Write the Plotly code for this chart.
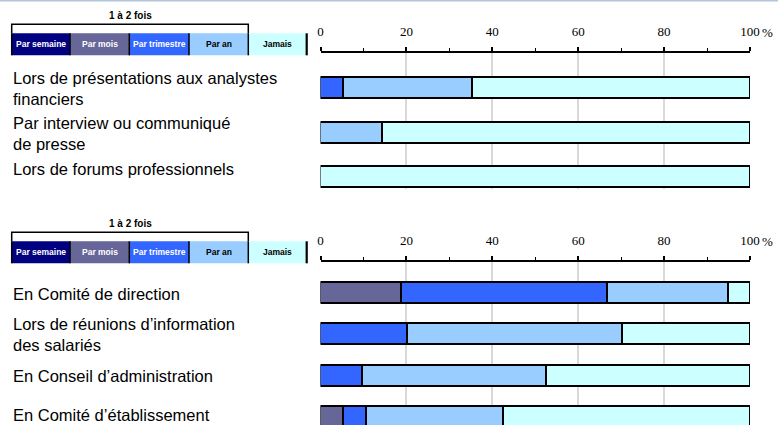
import plotly.graph_objects as go

W, H = 778, 425

# Frequency categories (stack order) and their fill colours
series_names = ["Par semaine", "Par mois", "Par trimestre", "Par an", "Jamais"]
series_colors = ["#000080", "#666699", "#3366FF", "#99CCFF", "#CCFFFF"]
legend_text_colors = ["white", "white", "white", "black", "black"]

# Upper panel: external communication
top_labels = [
    "Lors de présentations aux analystes<br>financiers",
    "Par interview ou communiqué<br>de presse",
    "Lors de forums professionnels",
]
top_semaine = [None, None, None]
top_mois = [None, None, None]
top_trimestre = [5.3, None, None]
top_an = [30.0, 14.5, None]
top_jamais = [64.7, 85.5, 100.0]

# Lower panel: internal communication
bottom_labels = [
    "En Comité de direction",
    "Lors de réunions d’information<br>des salariés",
    "En Conseil d’administration",
    "En Comité d’établissement",
]
bottom_semaine = [None, None, None, None]
bottom_mois = [18.9, None, None, 5.4]
bottom_trimestre = [48.0, 20.2, 9.7, 5.4]
bottom_an = [28.2, 50.0, 42.9, 31.7]
bottom_jamais = [4.9, 29.8, 47.4, 57.5]

tick_values = [0, 20, 40, 60, 80, 100]
tick_labels = ["0", "20", "40", "60", "80", "100"]

top_series = [top_semaine, top_mois, top_trimestre, top_an, top_jamais]
bottom_series = [bottom_semaine, bottom_mois, bottom_trimestre, bottom_an, bottom_jamais]


def px_x(x):
    return x / W


def px_y(y):
    return 1 - y / H


fig = go.Figure()

for name, color, vals in zip(series_names, series_colors, top_series):
    fig.add_trace(go.Bar(
        x=vals, y=list(range(len(top_labels))), orientation="h", name=name,
        marker=dict(color=color, line=dict(color="black", width=1.6)),
        width=0.472, xaxis="x", yaxis="y", showlegend=False, hoverinfo="x+name",
    ))

for name, color, vals in zip(series_names, series_colors, bottom_series):
    fig.add_trace(go.Bar(
        x=vals, y=list(range(len(bottom_labels))), orientation="h", name=name,
        marker=dict(color=color, line=dict(color="black", width=1.6)),
        width=0.507, xaxis="x2", yaxis="y2", showlegend=False, hoverinfo="x+name",
    ))

x_common = dict(
    range=[0, 100], side="top", showline=True, linecolor="black", linewidth=1.6,
    showgrid=True, gridcolor="#d9d9d9", gridwidth=1.5, zeroline=False,
    tickvals=tick_values, ticktext=tick_labels,
    ticks="outside", ticklen=4, tickwidth=1.6, tickcolor="black",
    minor=dict(ticks="outside", ticklen=3, tickwidth=1.4, tickcolor="black",
               dtick=10, showgrid=False),
    tickfont=dict(family="Liberation Serif", size=13, color="black"),
    ticklabelstandoff=6, automargin=False,
    domain=[px_x(320.5), px_x(750)], fixedrange=True,
)
y_common = dict(showgrid=False, zeroline=False, showline=False,
                showticklabels=False, ticks="", fixedrange=True,
                automargin=False)

fig.update_layout(
    width=W, height=H, margin=dict(l=0, r=0, t=0, b=0),
    paper_bgcolor="white", plot_bgcolor="white", barmode="stack",
    bargap=0,
    xaxis=dict(anchor="y", **x_common),
    xaxis2=dict(anchor="y2", **x_common),
    yaxis=dict(range=[2.258, -0.798], domain=[px_y(189), px_y(53)], **y_common),
    yaxis2=dict(range=[3.174, -0.761], domain=[0, px_y(262)], **y_common),
)

annotations = []
shapes = []

# Row labels at the left of each panel
label_font = dict(family="Liberation Sans", size=16.5, color="black")
top_shifts = [0, 0, 9]
bottom_shifts = [0, 0, 0, 3]
for i, text in enumerate(top_labels):
    annotations.append(dict(
        text=text, xref="paper", yref="y", x=px_x(11), y=i,
        xanchor="left", yanchor="middle", align="left", showarrow=False,
        font=label_font, yshift=top_shifts[i]))
for i, text in enumerate(bottom_labels):
    annotations.append(dict(
        text=text, xref="paper", yref="y2", x=px_x(11), y=i,
        xanchor="left", yanchor="middle", align="left", showarrow=False,
        font=label_font, yshift=bottom_shifts[i]))

# "%" unit after the last tick label of each axis
for xref, yref in (("x", "y domain"), ("x2", "y2 domain")):
    annotations.append(dict(
        text="%", xref=xref, yref=yref, x=100, y=1, xanchor="left",
        yanchor="middle", showarrow=False, xshift=10, yshift=21,
        font=dict(family="Liberation Serif", size=13, color="black")))

# Hand-built frequency key above each panel
key_edges = [11.7, 70, 129.3, 189, 248.3, 306.7]


def add_key(top):
    box_top, box_bottom = top + 9, top + 31
    for i, (name, color, tcol) in enumerate(zip(series_names, series_colors,
                                                legend_text_colors)):
        x0, x1 = key_edges[i], key_edges[i + 1]
        shapes.append(dict(
            type="rect", xref="paper", yref="paper",
            x0=px_x(x0), x1=px_x(x1), y0=px_y(box_bottom), y1=px_y(box_top),
            fillcolor=color, line=dict(width=0), layer="above"))
        annotations.append(dict(
            text=f"<b>{name}</b>", xref="paper", yref="paper",
            x=px_x((x0 + x1) / 2), y=px_y((box_top + box_bottom) / 2),
            xanchor="center", yanchor="middle", showarrow=False,
            font=dict(family="Liberation Sans", size=8.5, color=tcol)))
    for i, x in enumerate(key_edges):
        shapes.append(dict(
            type="line", xref="paper", yref="paper",
            x0=px_x(x), x1=px_x(x), y0=px_y(box_bottom), y1=px_y(box_top),
            line=dict(color="black", width=2.2 if i == len(key_edges) - 1 else 1.5)))
    # bracket grouping the "1 à 2 fois" categories
    shapes.append(dict(
        type="path", xref="paper", yref="paper",
        path=(f"M {px_x(key_edges[0])},{px_y(box_top)} "
              f"L {px_x(key_edges[0])},{px_y(top)} "
              f"L {px_x(key_edges[4])},{px_y(top)} "
              f"L {px_x(key_edges[4])},{px_y(box_top)}"),
        line=dict(color="black", width=1.5)))
    annotations.append(dict(
        text="<b>1 à 2 fois</b>", xref="paper", yref="paper",
        x=px_x(130), y=px_y(top - 9), xanchor="center", yanchor="middle",
        showarrow=False, font=dict(family="Liberation Sans", size=10, color="black")))


add_key(24.3)
add_key(232.3)

# thin rule along the top edge
shapes.append(dict(type="line", xref="paper", yref="paper", x0=0, x1=1,
                   y0=px_y(0.8), y1=px_y(0.8),
                   line=dict(color="#b3c6da", width=1.6)))

fig.update_layout(annotations=annotations, shapes=shapes)
fig.write_html("out.html")
